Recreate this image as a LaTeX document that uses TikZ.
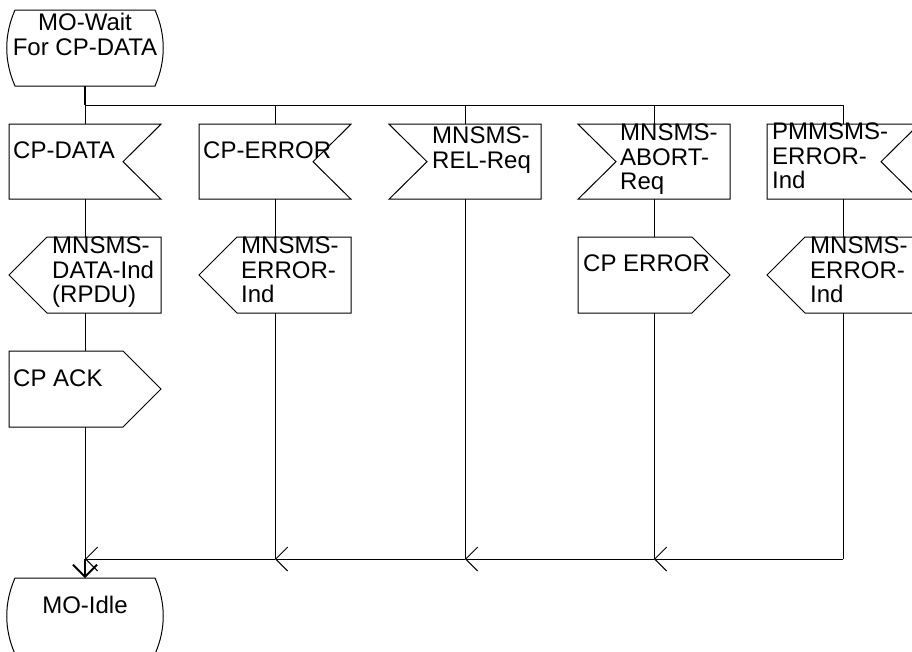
\documentclass[tikz,border=0pt]{standalone}
\usepackage{fontspec}
\setmainfont{Liberation Sans}
\usetikzlibrary{arrows.meta}

\tikzset{
  flow/.style={line width=1pt},
  box/.style={rectangle, minimum width=152pt, minimum height=76pt, inner sep=0pt, outer sep=0pt},
  recvR/.style={box, append after command={\pgfextra{\draw[flow] (\tikzlastnode.north west) -- (\tikzlastnode.north east)
      -- ([xshift=-38pt]\tikzlastnode.east) -- (\tikzlastnode.south east) -- (\tikzlastnode.south west) -- cycle;}}},
  recvL/.style={box, append after command={\pgfextra{\draw[flow] (\tikzlastnode.north west) -- (\tikzlastnode.north east)
      -- (\tikzlastnode.south east) -- (\tikzlastnode.south west) -- ([xshift=38pt]\tikzlastnode.west) -- cycle;}}},
  sendL/.style={box, append after command={\pgfextra{\draw[flow] ([xshift=38pt]\tikzlastnode.north west) -- (\tikzlastnode.north east)
      -- (\tikzlastnode.south east) -- ([xshift=38pt]\tikzlastnode.south west) -- (\tikzlastnode.west) -- cycle;}}},
  sendR/.style={box, append after command={\pgfextra{\draw[flow] (\tikzlastnode.north west) -- ([xshift=-38pt]\tikzlastnode.north east)
      -- (\tikzlastnode.east) -- ([xshift=-38pt]\tikzlastnode.south east) -- (\tikzlastnode.south west) -- cycle;}}},
  statebox/.style={rectangle, minimum width=140pt, minimum height=76pt, inner sep=0pt, outer sep=0pt,
    append after command={\pgfextra{\draw[flow] (\tikzlastnode.north west) -- (\tikzlastnode.north east)
      .. controls +(11,25) and +(11,-25) .. (\tikzlastnode.south east) -- (\tikzlastnode.south west)
      .. controls +(-11,-25) and +(-11,25) .. (\tikzlastnode.north west) -- cycle;}}},
  lbl/.style={anchor=north west, inner sep=0pt, align=left, font=\fontsize{24}{24.5}\selectfont},
  merge/.style={flow, -{Straight Barb[length=12pt,width=24pt]}},
}

\begin{document}
\begin{tikzpicture}[x=1pt, y=-1pt]
        \useasboundingbox (0,0) rectangle (912,651);
        \clip (0,0) rectangle (912,651);

        % Stato iniziale
        \node[statebox] (wait) at (85,48) {};
        \node[lbl, anchor=north, align=center] (tWait) at (85,13) {MO-Wait\\For CP-DATA};

        % Punti di diramazione e di raccolta
        \coordinate (b1) at (85,105);  \coordinate (m1) at (85,559);
        \coordinate (b2) at (275,105); \coordinate (m2) at (275,559);
        \coordinate (b3) at (465,105); \coordinate (m3) at (465,559);
        \coordinate (b4) at (654,105); \coordinate (m4) at (654,559);
        \coordinate (b5) at (843,105); \coordinate (m5) at (843,559);

        % Segnali in ingresso
        \node[recvR, minimum height=75pt] (cpdata) at (85,161.7) {};
        \node[recvR, minimum height=75pt] (cperr) at (275,161.7) {};
        \node[recvL, minimum height=75pt] (relreq) at (465,161.7) {};
        \node[recvL, minimum height=75pt] (abortreq) at (654,161.7) {};
        \node[recvR, minimum height=75pt] (pmerr) at (843,161.7) {};
        \node[lbl] (tCpdata) at (13,142) {CP-DATA};
        \node[lbl] (tCperr) at (203,142) {CP-ERROR};
        \node[lbl] (tRel) at (432,127) {MNSMS-\\REL-Req};
        \node[lbl] (tAbort) at (620,124) {MNSMS-\\ABORT-\\Req};
        \node[lbl] (tPm) at (772,123) {PMMSMS-\\ERROR-\\Ind};

        % Segnali in uscita
        \node[sendL] (dataind) at (85,275) {};
        \node[sendL] (errind) at (275,275) {};
        \node[sendR] (cperror) at (654,275) {};
        \node[sendL] (errind2) at (843,275) {};
        \node[sendR] (cpack) at (85,389) {};
        \node[lbl] (tData) at (52,237) {MNSMS-\\DATA-Ind\\(RPDU)};
        \node[lbl] (tErr) at (241,237) {MNSMS-\\ERROR-\\Ind};
        \node[lbl] (tCperror) at (583,255) {CP ERROR};
        \node[lbl] (tErr2) at (810,237) {MNSMS-\\ERROR-\\Ind};
        \node[lbl] (tAck) at (13,370) {CP ACK};

        % Stato finale
        \node[statebox] (idle) at (85,616) {};
        \node[lbl, anchor=north] (tIdle) at (85,596) {MO-Idle};

        % Diramazione
        \draw[flow, line width=1.8pt] (wait.south) -- (b1);
        \draw[flow] (b1) -- (b5);
        \draw[flow] (b1) -- (cpdata.north);
        \draw[flow] (b2) -- (cperr.north);
        \draw[flow] (b3) -- (relreq.north);
        \draw[flow] (b4) -- (abortreq.north);
        \draw[flow] (b5) -- (pmerr.north);

        % Rami verticali
        \draw[flow] (cpdata.south) -- (dataind.north);
        \draw[flow] (dataind.south) -- (cpack.north);
        \draw[flow] (cpack.south) -- (m1);
        \draw[flow] (cperr.south) -- (errind.north);
        \draw[flow] (errind.south) -- (m2);
        \draw[flow] (relreq.south) -- (m3);
        \draw[flow] (abortreq.south) -- (cperror.north);
        \draw[flow] (cperror.south) -- (m4);
        \draw[flow] (pmerr.south) -- (errind2.north);
        \draw[flow] (errind2.south) -- (m5);

        % Raccolta verso MO-Idle
        \draw[merge] (m5) -- (m4);
        \draw[merge] (m4) -- (m3);
        \draw[merge] (m3) -- (m2);
        \draw[merge] (m2) -- (m1);
        \draw[merge, line width=1.8pt] (m1) -- (idle.north);

\end{tikzpicture}
\end{document}
